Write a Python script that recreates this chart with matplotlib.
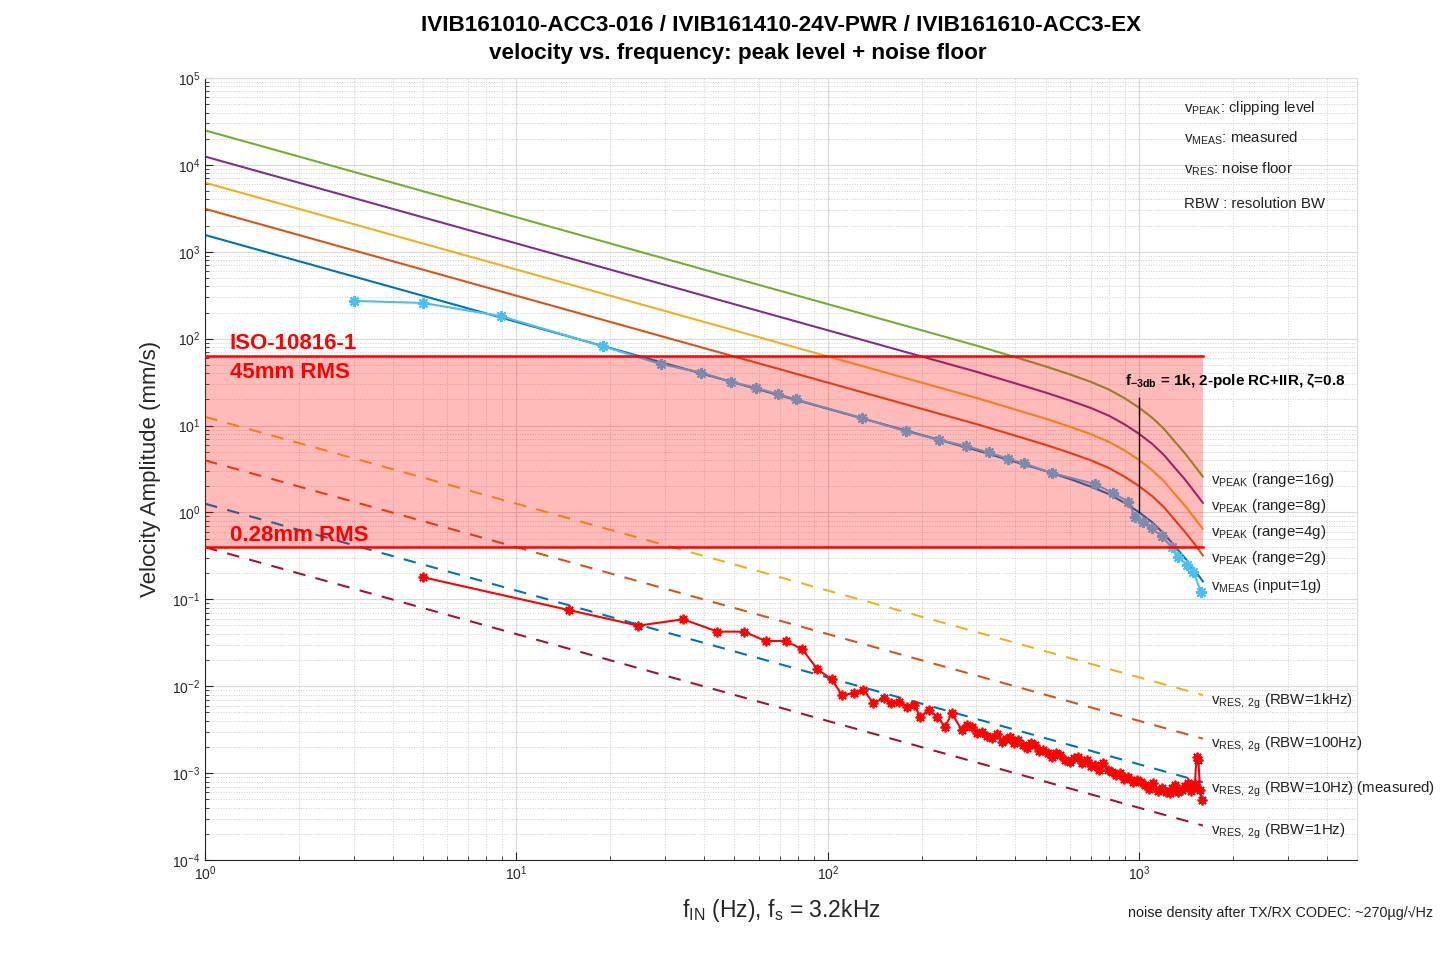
import numpy as np
import matplotlib
matplotlib.use("Agg")
import matplotlib.pyplot as plt

plt.rcParams['font.family'] = ['Liberation Sans', 'DejaVu Sans']
plt.rcParams['mathtext.fontset'] = 'custom'
plt.rcParams['mathtext.rm'] = 'Liberation Sans'
plt.rcParams['mathtext.it'] = 'Liberation Sans:italic'
plt.rcParams['mathtext.bf'] = 'Liberation Sans:bold'

# clipping level (v_PEAK) per range, mm/s
peak_f = [1, 10, 100, 300, 400, 500, 600, 700, 800, 900, 1000, 1100, 1200, 1300, 1400, 1500, 1600]
peak_16g = [24980, 2498, 249.8, 83.3, 61.2, 48.0, 38.7, 31.8, 25.9, 20.5, 16.0, 12.3, 9.16, 6.53, 4.82, 3.50, 2.58]
peak_8g = [12490, 1249, 124.9, 41.6, 30.6, 24.0, 19.35, 15.9, 12.95, 10.25, 8.0, 6.15, 4.58, 3.27, 2.41, 1.75, 1.29]
peak_4g = [6245, 624.5, 62.5, 20.8, 15.3, 12.0, 9.68, 7.95, 6.48, 5.13, 4.0, 3.07, 2.29, 1.63, 1.20, 0.875, 0.645]
peak_2g = [3122, 312.2, 31.2, 10.4, 7.65, 6.0, 4.84, 3.97, 3.24, 2.56, 2.0, 1.54, 1.15, 0.82, 0.60, 0.44, 0.32]
peak_1g = [1561, 156.1, 15.6, 5.2, 3.82, 3.0, 2.42, 1.98, 1.62, 1.28, 1.0, 0.77, 0.57, 0.41, 0.30, 0.22, 0.161]

# noise floor (v_RES, 2g) for each RBW, end points
res_f = [1, 1600]
res_1khz = [12.6, 0.0079]
res_100hz = [3.98, 0.00249]
res_10hz = [1.26, 0.000788]
res_1hz = [0.398, 0.000249]

# measured velocity, input = 1g
meas_f = [3, 5, 8.9, 18.9, 29.1, 39.0, 48.9, 58.6, 69.2, 79.1, 128.8, 178, 227, 278, 328, 380,
          425, 524, 721, 826, 922, 969, 1030, 1096, 1181, 1270, 1334, 1419, 1490, 1577]
meas_v = [272, 258, 182, 82, 51, 40.8, 32.0, 27.2, 23.0, 20.0, 12.2, 8.6, 6.85, 5.8, 4.9, 4.15,
          3.68, 2.85, 2.12, 1.66, 1.33, 0.895, 0.78, 0.66, 0.53, 0.40, 0.31, 0.249, 0.208, 0.123]

# measured noise floor (RBW = 10Hz)
noise = [(5, 0.180), (14.7, 0.0755), (24.6, 0.0498), (34.3, 0.059), (44.2, 0.0425), (53.8, 0.0425),
         (63.1, 0.0332), (73.1, 0.0332), (82.7, 0.0267), (92.5, 0.0157), (102.8, 0.0120), (111, 0.0079),
         (121, 0.0083), (130, 0.0091), (140, 0.0064), (151, 0.0073), (159, 0.0064), (169, 0.00665),
         (180, 0.00582), (189, 0.0061), (198, 0.00447), (211, 0.00533), (224, 0.00447), (238, 0.00343),
         (250, 0.00489), (269, 0.00314), (280, 0.0036), (290, 0.00343), (301, 0.0029), (312, 0.0030),
         (324, 0.0027), (336, 0.00252), (349, 0.0028), (362, 0.00231), (374, 0.0025), (385, 0.00263),
         (397, 0.0022), (409, 0.00241), (422, 0.0021), (435, 0.00194), (449, 0.0022), (463, 0.00211),
         (477, 0.0018), (492, 0.00185), (508, 0.0017), (524, 0.00155), (540, 0.0017), (556, 0.00162),
         (577, 0.0014), (599, 0.00136), (617, 0.0015), (636, 0.00155), (656, 0.0013), (677, 0.00142),
         (699, 0.0012), (721, 0.00124), (744, 0.0011), (767, 0.0013), (791, 0.0011), (815, 0.00104),
         (841, 0.00095), (867, 0.0010), (894, 0.00085), (922, 0.00091), (951, 0.0008), (980, 0.00084),
         (1010, 0.00078), (1042, 0.00073), (1075, 0.00065), (1109, 0.00077), (1144, 0.00062),
         (1180, 0.00067), (1217, 0.0006), (1254, 0.00059), (1277, 0.00068), (1301, 0.00073),
         (1334, 0.00061), (1367, 0.00064), (1401, 0.00072), (1436, 0.00077), (1463, 0.00062),
         (1490, 0.00067), (1508, 0.00075), (1527, 0.00155), (1548, 0.00142), (1566, 0.00064),
         (1585, 0.00049)]
noise_f = [p[0] for p in noise]
noise_v = [p[1] for p in noise]

# ISO-10816-1 band (peak of 45mm/s RMS and 0.28mm/s RMS)
iso_f = [1, 1600]
iso_hi = 63.6
iso_lo = 0.396

fig = plt.figure(figsize=(14.41, 9.61), dpi=100)
ax = fig.add_axes([0.1423, 0.1051, 0.7994, 0.8137])
ax.set_xscale('log')
ax.set_yscale('log')
ax.set_xlim(1, 5000)
ax.set_ylim(1e-4, 1e5)

lw = 1.5
asterisk = (8, 2, 0)
ax.plot(peak_f, peak_16g, color='#77AC30', lw=lw)
ax.plot(peak_f, peak_8g, color='#7E2F8E', lw=lw)
ax.plot(peak_f, peak_4g, color='#EDB120', lw=lw)
ax.plot(peak_f, peak_2g, color='#D95319', lw=lw)
ax.plot(peak_f, peak_1g, color='#0072BD', lw=lw)
ax.plot(meas_f, meas_v, color='#4DBEEE', lw=lw, marker=asterisk, ms=8, mew=1.5)

dash = (0, (6, 5))
ax.plot(res_f, res_1khz, color='#EDB120', lw=lw, linestyle=dash)
ax.plot(res_f, res_100hz, color='#D95319', lw=lw, linestyle=dash)
ax.plot(res_f, res_10hz, color='#0072BD', lw=lw, linestyle=dash)
ax.plot(res_f, res_1hz, color='#A2142F', lw=lw, linestyle=dash)
ax.plot(noise_f, noise_v, color='red', lw=1.5, marker=asterisk, ms=7, mew=1.3)

# ISO band over the curves
ax.fill_between(iso_f, iso_lo, iso_hi, color='red', alpha=0.27, lw=0, zorder=5)
ax.plot(iso_f, [iso_hi, iso_hi], color='red', lw=1.8, zorder=6)
ax.plot(iso_f, [iso_lo, iso_lo], color='red', lw=1.8, zorder=6)
ax.text(1.2, 89, 'ISO-10816-1', color='red', fontsize=16, fontweight='bold', va='center', zorder=7)
ax.text(1.2, 40.3, '45mm RMS', color='red', fontsize=16, fontweight='bold', va='center', zorder=7)
ax.text(1.2, 0.55, '0.28mm RMS', color='red', fontsize=16, fontweight='bold', va='center', zorder=7)

# f-3dB marker
ax.plot([1000, 1000], [20.8, 1.0], color='black', lw=1, zorder=8)
ax.text(902, 29.3, r'f$_{\mathbf{-3db}}$ = 1k, 2-pole RC+IIR, ζ=0.8', fontsize=11,
        fontweight='bold', va='baseline', zorder=8)

# curve labels on the right
lab_x = 1702
fs = 10.8
ax.text(lab_x, 2.13, r'v$_{\mathrm{PEAK}}$ (range=16g)', fontsize=fs, va='baseline', color='#222222')
ax.text(lab_x, 1.07, r'v$_{\mathrm{PEAK}}$ (range=8g)', fontsize=fs, va='baseline', color='#222222')
ax.text(lab_x, 0.537, r'v$_{\mathrm{PEAK}}$ (range=4g)', fontsize=fs, va='baseline', color='#222222')
ax.text(lab_x, 0.27, r'v$_{\mathrm{PEAK}}$ (range=2g)', fontsize=fs, va='baseline', color='#222222')
ax.text(lab_x, 0.128, r'v$_{\mathrm{MEAS}}$ (input=1g)', fontsize=fs, va='baseline', color='#222222')
ax.text(lab_x, 0.0061, r'v$_{\mathrm{RES,\ 2g}}$ (RBW=1kHz)', fontsize=fs, va='baseline', color='#222222')
ax.text(lab_x, 0.00195, r'v$_{\mathrm{RES,\ 2g}}$ (RBW=100Hz)', fontsize=fs, va='baseline', color='#222222')
ax.text(lab_x, 0.00059, r'v$_{\mathrm{RES,\ 2g}}$ (RBW=10Hz) (measured)', fontsize=fs, va='baseline',
        color='#222222', clip_on=False)
ax.text(lab_x, 0.000195, r'v$_{\mathrm{RES,\ 2g}}$ (RBW=1Hz)', fontsize=fs, va='baseline', color='#222222')

# key in the top right
key_x = 1394
kfs = 10.8
ax.text(key_x, 40600, r'v$_{\mathrm{PEAK}}$: clipping level', fontsize=kfs, va='baseline', color='#222222')
ax.text(key_x, 17900, r'v$_{\mathrm{MEAS}}$: measured', fontsize=kfs, va='baseline', color='#222222')
ax.text(key_x, 7850, r'v$_{\mathrm{RES}}$: noise floor', fontsize=kfs, va='baseline', color='#222222')
ax.text(key_x, 3190, 'RBW : resolution BW', fontsize=kfs, va='baseline', color='#222222')

# grid and axes styling
ax.grid(True, which='major', color='#d9d9d9', lw=0.8, linestyle='-')
ax.grid(True, which='minor', color='#cfcfcf', lw=0.7, linestyle=':')
ax.set_axisbelow(True)
ax.tick_params(which='both', direction='in', labelsize=10, colors='#262626')
ax.tick_params(which='major', length=6)
ax.tick_params(which='minor', length=3)
ax.set_xticks([1, 10, 100, 1000])
for s in ['left', 'bottom']:
    ax.spines[s].set_color('#262626')
for s in ['top', 'right']:
    ax.spines[s].set_color('#d9d9d9')

ax.set_ylabel('Velocity Amplitude (mm/s)', fontsize=16, color='#262626', labelpad=8)
ax.set_xlabel(r'f$_{\mathrm{IN}}$ (Hz), f$_{\mathrm{s}}$ = 3.2kHz', fontsize=16.5, color='#262626', labelpad=10)

fig.text(0.542, 0.973, 'IVIB161010-ACC3-016 / IVIB161410-24V-PWR / IVIB161610-ACC3-EX',
         ha='center', va='center', fontsize=16.2, fontweight='bold')
fig.text(0.512, 0.944, 'velocity vs. frequency: peak level + noise floor',
         ha='center', va='center', fontsize=16.2, fontweight='bold')
fig.text(1128 / 1441, 1 - 913 / 961, 'noise density after TX/RX CODEC: ~270µg/√Hz',
         ha='left', va='center', fontsize=10.4, color='#222222')

fig.savefig('out.png', dpi=100)
